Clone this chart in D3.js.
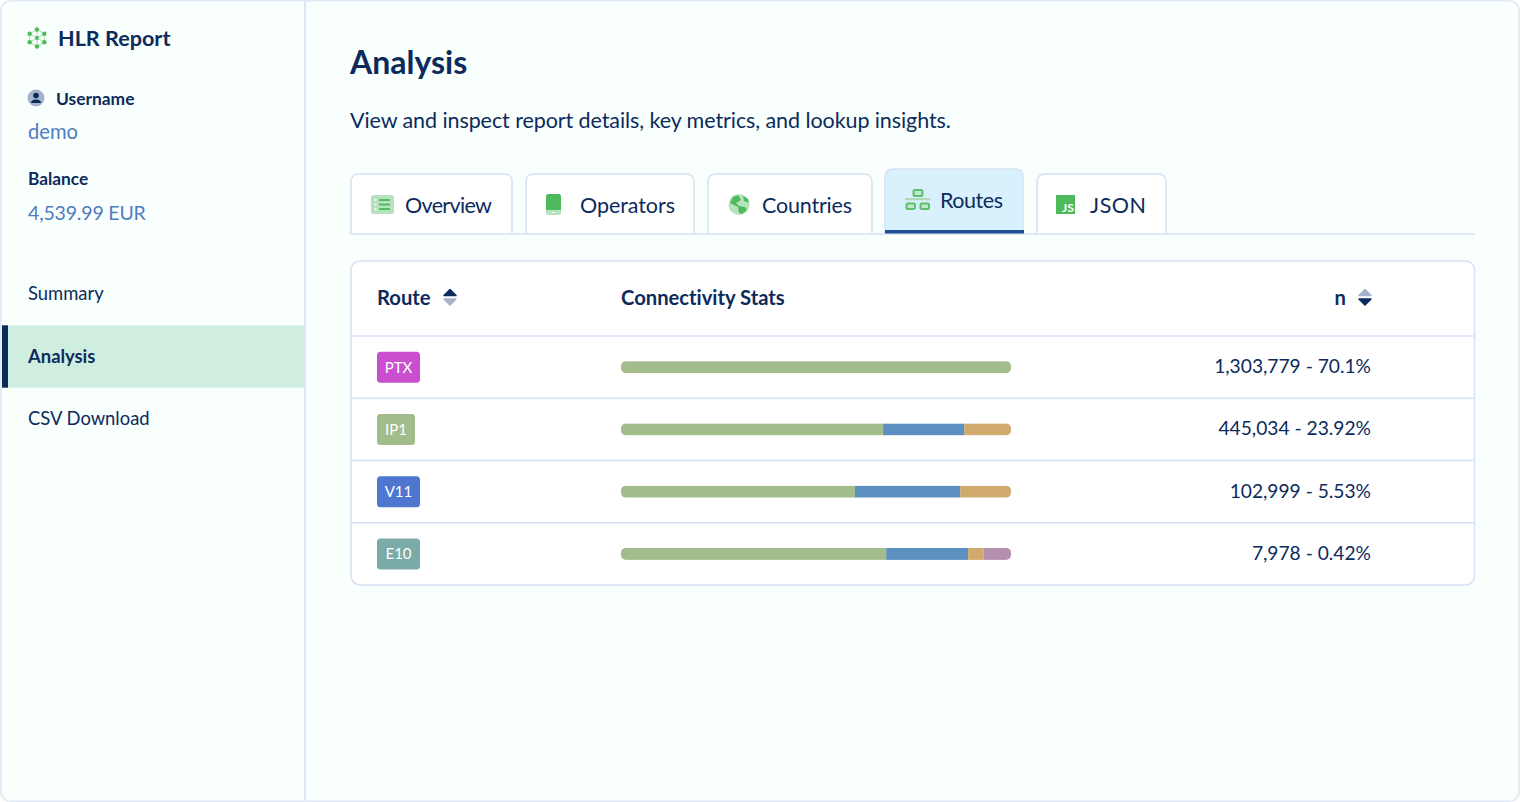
<!DOCTYPE html>
<html>
<head>
<meta charset="utf-8">
<title>HLR Report</title>
<script src="https://cdn.jsdelivr.net/npm/d3@7"></script>
<style>
html, body { margin: 0; padding: 0; background: #fff; }
svg { display: block; }
text { font-family: Lato, "Open Sans", sans-serif; fill: #0c2b5c; font-variant-ligatures: none; }
</style>
</head>
<body>
<div id="chart"></div>
<script>
// table data
var routes = ["PTX", "IP1", "V11", "E10"];
var counts = ["1,303,779 - 70.1%", "445,034 - 23.92%", "102,999 - 5.53%", "7,978 - 0.42%"];
var greenShare = [100, 67.2, 60, 68];
var blueShare = [0, 20.8, 27, 21];
var tanShare = [0, 12, 13, 4];
var purpleShare = [0, 0, 0, 7];

var tabNames = ["Overview", "Operators", "Countries", "Routes", "JSON"];
var menuItems = ["Summary", "Analysis", "CSV Download"];

var navy = "#0c2b5c", link = "#4f7cc1", rule = "#d5e2f4", green = "#4dbb5b", lightGreen = "#b6e3bd";
var routeColor = d3.scaleOrdinal().domain(routes).range(["#c94fcf", "#a3bc8b", "#4e77cf", "#7aaba8"]);
var shareKeys = ["green", "blue", "tan", "purple"];
var shareColor = d3.scaleOrdinal().domain(shareKeys).range(["#a3bc8b", "#5b90c0", "#d0a96c", "#b48fae"]);

var svg = d3.select("#chart").append("svg")
	.attr("width", 1520)
	.attr("height", 802);

// page frame
svg.append("rect").attr("width", 1520).attr("height", 802).attr("fill", "#fff");
svg.append("rect")
	.attr("x", 0.75).attr("y", 0.75).attr("width", 1518.5).attr("height", 800.5).attr("rx", 10)
	.attr("fill", "#f9fffd").attr("stroke", "#e0e8f4").attr("stroke-width", 1.5);
svg.append("line")
	.attr("x1", 305).attr("x2", 305).attr("y1", 1).attr("y2", 801)
	.attr("stroke", "#dbe5f4").attr("stroke-width", 2);

function label(x, y, str, size, weight, color, anchor, spacing) {
	return svg.append("text")
		.attr("x", x).attr("y", y)
		.attr("font-size", size)
		.attr("font-weight", weight || 400)
		.attr("text-anchor", anchor || "start")
		.attr("letter-spacing", spacing || 0)
		.style("fill", color || navy)
		.text(str);
}

// sidebar head
var logo = svg.append("g").attr("transform", "translate(37,38)");
var spokes = d3.range(6).map(function(i) { return i * Math.PI / 3 + Math.PI / 2; });
var ring = d3.lineRadial().radius(8.5).angle(function(a) { return Math.PI / 2 - a; }).curve(d3.curveLinearClosed);
logo.append("path").attr("d", ring(spokes)).attr("fill", "none").attr("stroke", lightGreen).attr("stroke-width", 1.1);
logo.selectAll("line").data(spokes).enter().append("line")
	.attr("x2", function(a) { return 8.5 * Math.cos(a); })
	.attr("y2", function(a) { return 8.5 * Math.sin(a); })
	.attr("stroke", lightGreen).attr("stroke-width", 1.2);
logo.selectAll("circle").data(spokes).enter().append("circle")
	.attr("cx", function(a) { return 8.5 * Math.cos(a); })
	.attr("cy", function(a) { return 8.5 * Math.sin(a); })
	.attr("r", 2.2).attr("fill", green);
logo.append("circle").attr("r", 2).attr("fill", green);
label(58, 46, "HLR Report", 21.6, 700);

svg.append("circle").attr("cx", 36).attr("cy", 98).attr("r", 8.5).attr("fill", "#a5b3cb");
svg.append("circle").attr("cx", 36).attr("cy", 95.5).attr("r", 2.8).attr("fill", navy);
svg.append("path").attr("d", "M31 103 Q31 99.5 36 99.5 Q41 99.5 41 103 Z").attr("fill", navy);
label(56, 104.5, "Username", 17.4, 700);
label(28, 139, "demo", 20.2, 400, link);
label(28, 185, "Balance", 17.3, 700);
label(28, 219.5, "4,539.99 EUR", 19.5, 400, link, "start", -0.17);

// sidebar menu
var menuY = d3.scaleBand().domain(menuItems).range([263, 450]);
svg.append("rect")
	.attr("x", 2).attr("y", menuY("Analysis")).attr("width", 302).attr("height", menuY.bandwidth())
	.attr("fill", "#d0eee0");
svg.append("rect")
	.attr("x", 2).attr("y", menuY("Analysis")).attr("width", 6).attr("height", menuY.bandwidth())
	.attr("fill", navy);
menuItems.forEach(function(m) {
	label(28, menuY(m) + menuY.bandwidth() / 2 + 6, m, 18.4, m == "Analysis" ? 700 : 400);
});

// heading
label(350, 74, "Analysis", 32, 700);
label(350, 128, "View and inspect report details, key metrics, and lookup insights.", 21.5, 400, navy, "start", -0.08);

// tabs
var tabLeft = [351, 526, 708, 885, 1037], tabRight = [512, 694, 872, 1023, 1166];
var tabTextX = [405, 580, 762, 940, 1090], tabTextW = [87, 95, 90, 63, 56];
tabNames.forEach(function(name, i) {
	var active = name == "Routes";
	var top = active ? 169 : 174, l = tabLeft[i], r = tabRight[i];
	svg.append("path")
		.attr("d", "M" + l + " 234 V" + (top + 8) + " Q" + l + " " + top + " " + (l + 8) + " " + top +
			" H" + (r - 8) + " Q" + r + " " + top + " " + r + " " + (top + 8) + " V234")
		.attr("fill", active ? "#d9f1fd" : "#fff")
		.attr("stroke", rule).attr("stroke-width", 1.5);
	label(tabTextX[i], active ? 208 : 213, name, 21.5).attr("textLength", tabTextW[i]);
});
svg.append("line").attr("x1", 350).attr("x2", 1475).attr("y1", 234).attr("y2", 234)
	.attr("stroke", rule).attr("stroke-width", 1.5);
svg.append("rect").attr("x", 885).attr("y", 230).attr("width", 139).attr("height", 3.5).attr("fill", "#1d4e93");

// tab icons
svg.append("rect").attr("x", 371).attr("y", 195).attr("width", 23).attr("height", 19).attr("rx", 2.5).attr("fill", lightGreen);
[200, 204.5, 209].forEach(function(y) {
	svg.append("rect").attr("x", 379).attr("y", y - 0.9).attr("width", 11).attr("height", 1.9).attr("fill", green);
	svg.append("circle").attr("cx", 375.5).attr("cy", y).attr("r", 1).attr("fill", "#fff");
});
svg.append("rect").attr("x", 546).attr("y", 194).attr("width", 15).attr("height", 21).attr("rx", 2.5).attr("fill", lightGreen);
svg.append("path").attr("d", "M546 210 V196.5 Q546 194 548.5 194 H558.5 Q561 194 561 196.5 V210 Z").attr("fill", green);
svg.append("rect").attr("x", 552).attr("y", 212).attr("width", 3).attr("height", 1).attr("fill", "#fff");

svg.append("circle").attr("cx", 739).attr("cy", 204.5).attr("r", 10.5).attr("fill", lightGreen);
svg.append("path").attr("d", "M733 197 L738 195 L741 200 L736 203 L739 206 L745 207 L747 210 L742 214 L739 213 L738 207 L730 203 Z").attr("fill", green);
svg.append("path").attr("d", "M743 196 L748 199 L749 203 L744 201 Z").attr("fill", green);

var net = svg.append("g").attr("fill", "#bfe8cf").attr("stroke", "#5cc06a").attr("stroke-width", 2);
net.append("rect").attr("x", 913.5).attr("y", 190).attr("width", 9).attr("height", 6).attr("rx", 1.5);
net.append("rect").attr("x", 906.5).attr("y", 203.5).attr("width", 8.5).attr("height", 5.5).attr("rx", 1.5);
net.append("rect").attr("x", 920.5).attr("y", 203.5).attr("width", 8.5).attr("height", 5.5).attr("rx", 1.5);
svg.append("rect").attr("x", 905).attr("y", 198).attr("width", 25).attr("height", 2.2).attr("fill", "#a9dcb2");

svg.append("rect").attr("x", 1056).attr("y", 195).attr("width", 19).attr("height", 19).attr("fill", green);
svg.append("text").attr("x", 1062).attr("y", 212).attr("font-size", 12).attr("font-weight", 700).style("fill", "#fff").text("JS");

// table card
var barX = d3.scaleLinear().domain([0, 100]).range([621, 1011]);
var rowY = d3.scaleBand().domain(routes).range([336, 585]);

svg.append("rect")
	.attr("x", 351).attr("y", 261).attr("width", 1123.5).attr("height", 324).attr("rx", 9)
	.attr("fill", "#fff").attr("stroke", rule).attr("stroke-width", 1.5);

routes.forEach(function(r) {
	svg.append("line")
		.attr("x1", 351).attr("x2", 1474).attr("y1", rowY(r)).attr("y2", rowY(r))
		.attr("stroke", rule).attr("stroke-width", 1.5);
});

label(377, 304.5, "Route", 20.2, 700);
label(621, 304.5, "Connectivity Stats", 20.2, 700);
label(1346, 304.5, "n", 20.2, 700, navy, "end");

function sorter(cx, upDark) {
	svg.append("path").attr("d", "M" + (cx - 6) + " 295.5 L" + cx + " 289.5 L" + (cx + 6) + " 295.5 Z")
		.attr("fill", upDark ? navy : "#a5b3cb").attr("stroke", upDark ? navy : "#a5b3cb")
		.attr("stroke-width", 1.5).attr("stroke-linejoin", "round");
	svg.append("path").attr("d", "M" + (cx - 6) + " 299 L" + cx + " 305 L" + (cx + 6) + " 299 Z")
		.attr("fill", upDark ? "#a5b3cb" : navy).attr("stroke", upDark ? "#a5b3cb" : navy)
		.attr("stroke-width", 1.5).attr("stroke-linejoin", "round");
}
sorter(450, true);
sorter(1365, false);

// route badges
var badgeW = [43, 38, 43, 43];
var rows = svg.selectAll(".row").data(routes).enter().append("g").attr("class", "row");
rows.append("rect")
	.attr("x", 377)
	.attr("y", function(d) { return rowY(d) + rowY.bandwidth() / 2 - 15.5; })
	.attr("width", function(d, i) { return badgeW[i]; })
	.attr("height", 31)
	.attr("rx", 3.5)
	.attr("fill", function(d) { return routeColor(d); });
rows.append("text")
	.attr("x", function(d, i) { return 377 + badgeW[i] / 2; })
	.attr("y", function(d) { return rowY(d) + rowY.bandwidth() / 2 + 5.5; })
	.attr("text-anchor", "middle")
	.attr("font-size", 15)
	.style("fill", "#fff")
	.text(function(d) { return d; });
rows.append("text")
	.attr("x", 1371)
	.attr("y", function(d) { return rowY(d) + rowY.bandwidth() / 2 + 6; })
	.attr("text-anchor", "end")
	.attr("font-size", 19.2)
	.text(function(d, i) { return counts[i]; });

// stacked bars
var table = routes.map(function(r, i) {
	return { route: r, green: greenShare[i], blue: blueShare[i], tan: tanShare[i], purple: purpleShare[i] };
});
var stacked = d3.stack().keys(shareKeys)(table);
var defs = svg.append("defs");
routes.forEach(function(r, i) {
	defs.append("clipPath").attr("id", "bar" + i).append("rect")
		.attr("x", barX(0))
		.attr("y", rowY(r) + rowY.bandwidth() / 2 - 6)
		.attr("width", barX(100) - barX(0))
		.attr("height", 12)
		.attr("rx", 5);
});
svg.selectAll(".layer").data(stacked).enter().append("g")
	.attr("class", "layer")
	.attr("fill", function(d) { return shareColor(d.key); })
	.selectAll("rect").data(function(d) { return d; }).enter().append("rect")
	.attr("clip-path", function(d, i) { return "url(#bar" + i + ")"; })
	.attr("x", function(d) { return barX(d[0]); })
	.attr("y", function(d) { return rowY(d.data.route) + rowY.bandwidth() / 2 - 6; })
	.attr("width", function(d) { return barX(d[1]) - barX(d[0]); })
	.attr("height", 12);
</script>
</body>
</html>
